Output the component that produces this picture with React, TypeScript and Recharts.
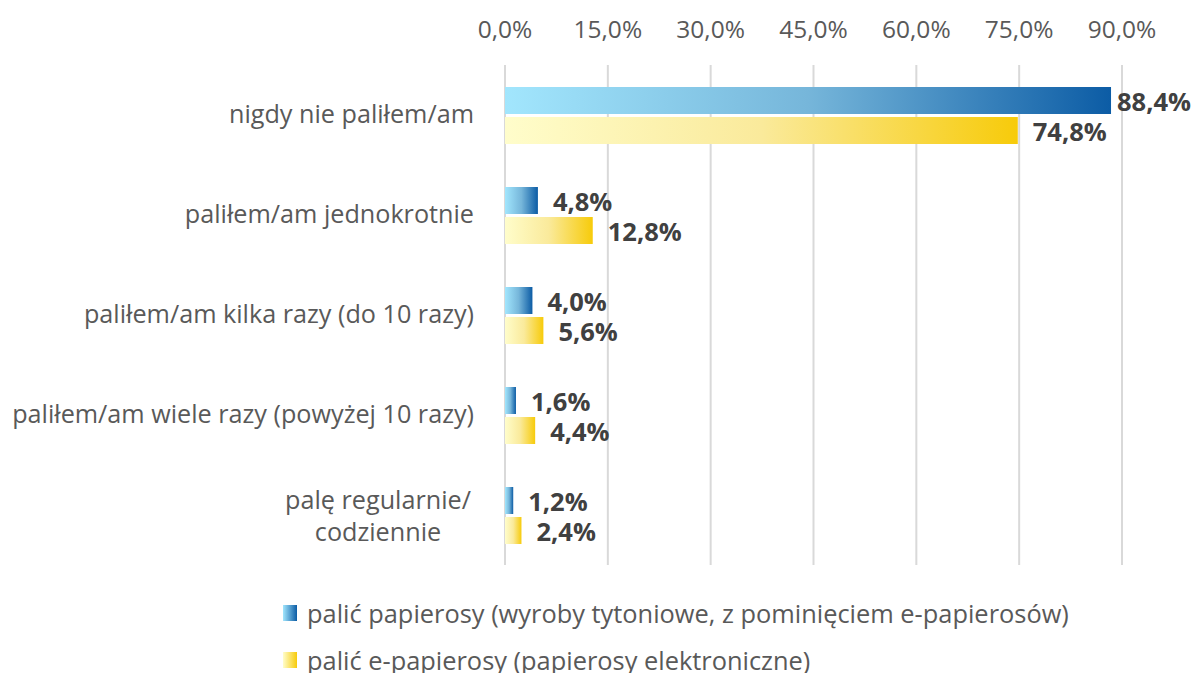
import React from 'react';
import { BarChart, Bar, XAxis, YAxis, CartesianGrid, LabelList } from 'recharts';

// categories and values (percent)
const categories = [
  'nigdy nie paliłem/am',
  'paliłem/am jednokrotnie',
  'paliłem/am kilka razy (do 10 razy)',
  'paliłem/am wiele razy (powyżej 10 razy)',
  'palę regularnie/\ncodziennie',
];
const cigarettes = [88.4, 4.8, 4.0, 1.6, 1.2];
const eCigarettes = [74.8, 12.8, 5.6, 4.4, 2.4];
const xTicks = [0, 15, 30, 45, 60, 75, 90];
const seriesNames = [
  'palić papierosy (wyroby tytoniowe, z pominięciem e-papierosów)',
  'palić e-papierosy (papierosy elektroniczne)',
];

const data = categories.map((name, i) => ({
  name,
  cig: cigarettes[i],
  ecig: eCigarettes[i],
}));

const FONT = '"Open Sans", "Noto Sans", sans-serif';
const fmt = (v: number) => v.toFixed(1).replace('.', ',') + '%';

const CategoryTick = (props: any) => {
  const { x, y, payload } = props;
  const lines: string[] = String(payload.value).split('\n');
  if (lines.length === 1) {
    return (
      <text x={x - 23} y={y} dy={8} textAnchor="end" fill="#595959" fontSize={25.2} fontFamily={FONT}>
        {lines[0]}
      </text>
    );
  }
  return (
    <text x={x - 119} y={y} textAnchor="middle" fill="#595959" fontSize={25.2} fontFamily={FONT}>
      {lines.map((l, i) => (
        <tspan key={i} x={x - 119} dy={i === 0 ? -6 : 32}>
          {l}
        </tspan>
      ))}
    </text>
  );
};

// label sits ~15px right of the bar, but is pulled back to stay inside the chart
const ValueLabel = (props: any) => {
  const { x, y, width, height, value } = props;
  const textW = fmt(value).length * 15;
  const lx = Math.min(x + width + 15, 1192 - textW);
  return (
    <text
      x={lx}
      y={y + height / 2}
      dy={10}
      fill="#404040"
      fontSize={25.5}
      fontWeight="bold"
      fontFamily={FONT}
    >
      {fmt(value)}
    </text>
  );
};

export default function App() {
  return (
    <div style={{ position: 'absolute', left: 0, top: 0, width: 1195, height: 673, background: '#fff', fontFamily: FONT }}>
      <BarChart
        width={1195}
        height={673}
        data={data}
        layout="vertical"
        margin={{ top: 0, right: 73, bottom: 108, left: 0 }}
        barCategoryGap="22%"
        barGap={3}
      >
        <defs>
          <linearGradient id="gradBlue" x1="0" y1="0" x2="1" y2="0">
            <stop offset="0%" stopColor="#A2E6FD" />
            <stop offset="50%" stopColor="#76B6DA" />
            <stop offset="100%" stopColor="#0C5CA5" />
          </linearGradient>
          <linearGradient id="gradYellow" x1="0" y1="0" x2="1" y2="0">
            <stop offset="0%" stopColor="#FFFDCB" />
            <stop offset="50%" stopColor="#FAEA9B" />
            <stop offset="100%" stopColor="#F7CB0A" />
          </linearGradient>
        </defs>
        <CartesianGrid horizontal={false} stroke="#d9d9d9" strokeWidth={2} />
        <XAxis
          type="number"
          orientation="top"
          domain={[0, 90]}
          ticks={xTicks}
          height={65}
          axisLine={false}
          tickLine={false}
          tickSize={0}
          tickMargin={27}
          tickFormatter={fmt}
          tick={{ fill: '#595959', fontSize: 24.5, fontFamily: FONT }}
          interval={0}
        />
        <YAxis
          type="category"
          dataKey="name"
          width={505}
          axisLine={false}
          tickLine={false}
          tick={<CategoryTick />}
          interval={0}
        />
        <Bar dataKey="cig" fill="url(#gradBlue)" isAnimationActive={false}>
          <LabelList dataKey="cig" content={<ValueLabel />} />
        </Bar>
        <Bar dataKey="ecig" fill="url(#gradYellow)" isAnimationActive={false}>
          <LabelList dataKey="ecig" content={<ValueLabel />} />
        </Bar>
      </BarChart>
      {seriesNames.map((s, i) => (
        <div
          key={s}
          style={{
            position: 'absolute',
            left: 283,
            top: 594 + i * 47,
            display: 'flex',
            alignItems: 'center',
            fontSize: 25.4,
            lineHeight: '38px',
            color: '#595959',
            whiteSpace: 'nowrap',
          }}
        >
          <span
            style={{
              display: 'inline-block',
              width: 14,
              height: 16,
              marginRight: 10,
              background:
                i === 0
                  ? 'linear-gradient(to right, #A2E6FD, #0C5CA5)'
                  : 'linear-gradient(to right, #FFFDCB, #F7CB0A)',
            }}
          />
          {s}
        </div>
      ))}
    </div>
  );
}
